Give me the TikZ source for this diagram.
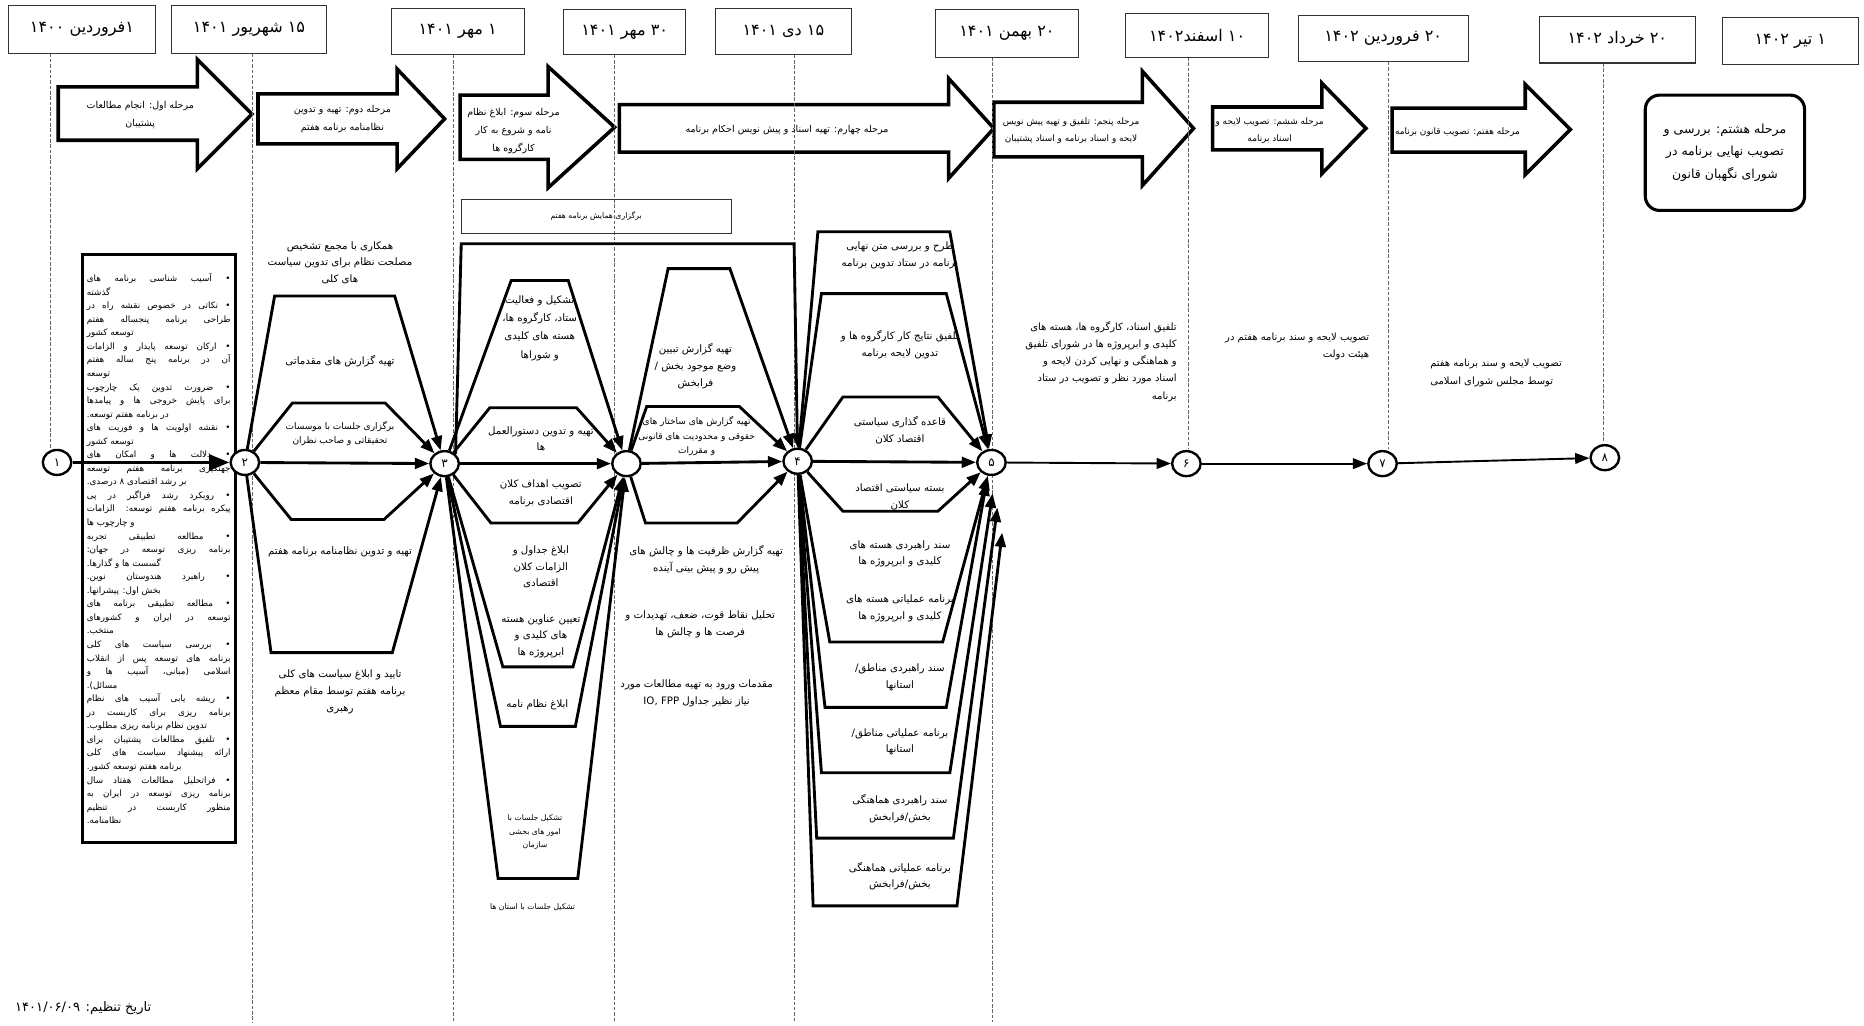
\documentclass[tikz,border=0pt]{standalone}
\usepackage{fontspec}
\usetikzlibrary{arrows.meta,shapes.geometric}
\newfontfamily\fa[Script=Arabic]{DejaVu Sans}
\TeXXeTstate=1
\newcommand\rtl[1]{\beginR #1\endR}
\hyphenpenalty=10000
\exhyphenpenalty=10000
\begin{document}
\begin{tikzpicture}[x=1pt,y=-1pt,
  tl/.style={draw=black!60,line width=0.7pt,dash pattern=on 3pt off 1.5pt},
  datebox/.style={draw=black!80,line width=0.9pt,inner sep=0pt,font=\fa\fontsize{13.5}{15}\selectfont},
  stagearrow/.style={draw=black,line width=3pt,fill=white,line join=miter},
  stagebox/.style={draw=black,line width=2.6pt,rounded corners=12pt,fill=white,align=center,inner sep=0pt,font=\fa\fontsize{10.5}{19}\selectfont},
  circ/.style={ellipse,draw=black,line width=2pt,fill=white,minimum width=24pt,minimum height=21pt,inner sep=0pt,font=\fa\fontsize{10}{11}\selectfont},
  conn/.style={draw=black,line width=2.4pt,line join=miter,-{Triangle[length=12pt,width=9pt]}},
  mainarrow/.style={draw=black,line width=3pt,-{Triangle[length=17pt,width=13pt]}},
  thinarrow/.style={draw=black,line width=1.6pt,-{Triangle[length=12pt,width=9pt]}},
  txt/.style={align=center,inner sep=0pt,font=\fa\fontsize{8.6}{14}\selectfont},
  stxt/.style={align=center,inner sep=0pt,font=\fa\fontsize{6.5}{11.5}\selectfont},
  mtxt/.style={align=center,inner sep=0pt,font=\fa\fontsize{7.6}{12}\selectfont},
  atxt/.style={align=center,inner sep=0pt,font=\fa\fontsize{8}{15}\selectfont},
  satxt/.style={align=center,inner sep=0pt,font=\fa\fontsize{7.5}{14}\selectfont},
  rtxt/.style={inner sep=0pt,anchor=north east,font=\fa\fontsize{8.4}{14.5}\selectfont},
  listbox/.style={draw=black,line width=2.5pt,inner sep=0pt,minimum width=129pt,minimum height=495pt}
]
\useasboundingbox (0,0) rectangle (1568,863);

% ---------- stage arrows ----------
\draw[stagearrow] (49,73) -- (166,73) -- (166,50) -- (212,96) -- (166,142) -- (166,118) -- (49,118) -- cycle;
\draw[stagearrow] (217,79) -- (334,79) -- (334,58) -- (374,100) -- (334,142) -- (334,121) -- (217,121) -- cycle;
\draw[stagearrow] (387,80) -- (461,80) -- (461,56) -- (517,107) -- (461,158) -- (461,134) -- (387,134) -- cycle;
\draw[stagearrow] (521,88) -- (798,88) -- (798,66) -- (836,108) -- (798,150) -- (798,128) -- (521,128) -- cycle;
\draw[stagearrow] (836,86) -- (961,86) -- (961,60) -- (1004,108) -- (961,156) -- (961,132) -- (836,132) -- cycle;
\draw[stagearrow] (1020,90) -- (1112,90) -- (1112,70) -- (1149,108) -- (1112,146) -- (1112,126) -- (1020,126) -- cycle;
\draw[stagearrow] (1171,91) -- (1283,91) -- (1283,71) -- (1321,109) -- (1283,147) -- (1283,128) -- (1171,128) -- cycle;

% ---------- dashed time lines ----------
\draw[tl] (42,45) -- (42,378);
\draw[tl] (212,45) -- (212,860);
\draw[tl] (381,46) -- (381,860);
\draw[tl] (517,46) -- (517,860);
\draw[tl] (668,46) -- (668,860);
\draw[tl] (835,48) -- (835,860);
\draw[tl] (1000,48) -- (1000,378);
\draw[tl] (1168,52) -- (1168,378);
\draw[tl] (1349,53) -- (1349,372);

% ---------- date boxes ----------
\node[datebox,minimum width=124pt,minimum height=40pt] (d1) at (69,25) {\rtl{۱فروردین ۱۴۰۰}};
\node[datebox,minimum width=131pt,minimum height=40pt] (d2) at (209.5,25) {\rtl{۱۵ شهریور ۱۴۰۱}};
\node[datebox,minimum width=112pt,minimum height=39pt] (d3) at (385,26.5) {\rtl{۱ مهر ۱۴۰۱}};
\node[datebox,minimum width=103pt,minimum height=38pt] (d4) at (525.5,27) {\rtl{۳۰ مهر ۱۴۰۱}};
\node[datebox,minimum width=114pt,minimum height=39pt] (d5) at (659,26.5) {\rtl{۱۵ دی ۱۴۰۱}};
\node[datebox,minimum width=120pt,minimum height=40pt] (d6) at (847,28) {\rtl{۲۰ بهمن ۱۴۰۱}};
\node[datebox,minimum width=120pt,minimum height=37pt] (d7) at (1007,29.5) {\rtl{۱۰ اسفند۱۴۰۲}};
\node[datebox,minimum width=143pt,minimum height=39pt] (d8) at (1163.5,32.5) {\rtl{۲۰ فروردین ۱۴۰۲}};
\node[datebox,minimum width=131pt,minimum height=39pt] (d9) at (1360.5,33.5) {\rtl{۲۰ خرداد ۱۴۰۲}};
\node[datebox,minimum width=114pt,minimum height=39pt] (d10) at (1506,34.5) {\rtl{۱ تیر ۱۴۰۲}};

% ---------- stage 8 box ----------
\node[stagebox,minimum width=134pt,minimum height=97pt] (s8) at (1451,128.5)
  {\rtl{مرحله هشتم: بررسی و}\\\rtl{تصویب نهایی برنامه در}\\\rtl{شورای نگهبان قانون}};

% ---------- stage 1 list ----------
\node[listbox] (bl) at (133.5,461.5) {\parbox{121pt}{\fa\fontsize{7.4}{11.4}\selectfont\tolerance=10000
\rtl{• آسیب شناسی برنامه های\linebreak گذشته}\par
\rtl{• نکاتی در خصوص نقشه راه در\linebreak طراحی برنامه پنجساله هفتم\linebreak توسعه کشور}\par
\rtl{• ارکان توسعه پایدار و الزامات\linebreak آن در برنامه پنج ساله هفتم\linebreak توسعه}\par
\rtl{• ضرورت تدوین یک چارچوب\linebreak برای پایش خروجی ها و پیامدها\linebreak در برنامه هفتم توسعه.}\par
\rtl{• نقشه اولویت ها و فوریت های\linebreak توسعه کشور}\par
\rtl{• دلالت ها و امکان های\linebreak جهتگیری برنامه هفتم توسعه\linebreak بر رشد اقتصادی ۸ درصدی.}\par
\rtl{• رویکرد رشد فراگیر در پی\linebreak پیکره برنامه هفتم توسعه: الزامات\linebreak و چارچوب ها}\par
\rtl{• مطالعه تطبیقی تجربه\linebreak برنامه ریزی توسعه در جهان:\linebreak گسست ها و گذارها.}\par
\rtl{• راهبرد هندوستان نوین.\linebreak بخش اول: پیشرانها.}\par
\rtl{• مطالعه تطبیقی برنامه های\linebreak توسعه در ایران و کشورهای\linebreak منتخب.}\par
\rtl{• بررسی سیاست های کلی\linebreak برنامه های توسعه پس از انقلاب\linebreak اسلامی (مبانی، آسیب ها و\linebreak مسائل).}\par
\rtl{• ریشه یابی آسیب های نظام\linebreak برنامه ریزی برای کاربست در\linebreak تدوین نظام برنامه ریزی مطلوب.}\par
\rtl{• تلفیق مطالعات پشتیبان برای\linebreak ارائه پیشنهاد سیاست های کلی\linebreak برنامه هفتم توسعه کشور.}\par
\rtl{• فراتحلیل مطالعات هفتاد سال\linebreak برنامه ریزی توسعه در ایران به\linebreak منظور کاربست در تنظیم\linebreak نظامنامه.}\par
}};

% ---------- همایش box ----------
\node[draw=black!80,line width=0.8pt,minimum width=227pt,minimum height=28pt,stxt] (hm) at (501.5,182) {\rtl{برگزاری همایش برنامه هفتم}};

% ---------- circles ----------
\node[circ] (c1) at (48,389) {\rtl{۱}};
\node[circ] (c2) at (206,389) {\rtl{۲}};
\node[circ] (c3) at (374,390) {\rtl{۳}};
\node[circ] (c3b) at (527,390) {};
\node[circ] (c4) at (671,388) {\rtl{۴}};
\node[circ] (c5) at (834,389) {\rtl{۵}};
\node[circ] (c6) at (998,390) {\rtl{۶}};
\node[circ] (c7) at (1163,390) {\rtl{۷}};
\node[circ] (c8) at (1350,385) {\rtl{۸}};

\coordinate (e5b) at (830,405);
\coordinate (e5c) at (835,415);
\coordinate (e5d) at (839,427);
\coordinate (e5e) at (843,448);

% ---------- timeline ----------
\draw[mainarrow] (c1) -- (c2);
\draw[conn] (c2) -- (c3);
\draw[conn] (c3) -- (c3b);
\draw[conn] (c3b) -- (c4);
\draw[conn] (c4) -- (c5);
\draw[thinarrow] (c5) -- (c6);
\draw[thinarrow] (c6) -- (c7);
\draw[thinarrow] (c7) -- (c8);

% ---------- stage 2 ----------
\draw[conn] (c2) -- (231,249) -- (332,249) -- (c3);
\draw[conn] (c2) -- (246,339) -- (324,339) -- (c3);
\draw[conn] (c2) -- (245,437) -- (323,437) -- (c3);
\draw[conn] (c2) -- (228,549) -- (330,549) -- (c3);

% ---------- stage 3 ----------
\draw[conn] (c3.north east) -- (388,205) -- (668,205) -- (c4);
\draw[conn] (c3) -- (430,236) -- (478,236) -- (c3b);
\draw[conn] (c3) -- (412,343) -- (485,343) -- (c3b);
\draw[conn] (c3) -- (413,440) -- (486,440) -- (c3b);
\draw[conn] (c3) -- (423,561) -- (482,561) -- (c3b);
\draw[conn] (c3) -- (421,611) -- (484,611) -- (c3b);
\draw[conn] (c3) -- (419,739) -- (486,739) -- (c3b);

% ---------- stage 4 ----------
\draw[conn] (c3b) -- (562,226) -- (614,226) -- (c4);
\draw[conn] (c3b) -- (544,342) -- (622,342) -- (c4);
\draw[conn] (c3b) -- (543,440) -- (620,440) -- (c4);

% ---------- stage 5 ----------
\draw[conn] (c4) -- (688,195) -- (799,195) -- (c5);
\draw[conn] (c4) -- (691,247) -- (796,247) -- (c5);
\draw[conn] (c4) -- (709,334) -- (789,334) -- (c5);
\draw[conn] (c4) -- (709,430) -- (789,430) -- (c5);
\draw[conn] (c4) -- (698,540) -- (793,540) -- (c5);
\draw[conn] (c4) -- (694,595) -- (796,595) -- (e5b);
\draw[conn] (c4) -- (691,650) -- (799,650) -- (e5c);
\draw[conn] (c4) -- (687,705) -- (802,705) -- (e5d);
\draw[conn] (c4) -- (684,762) -- (805,762) -- (e5e);

% ---------- arrow texts ----------
\node[atxt] (a1t) at (118,97) {\rtl{مرحله اول: انجام مطالعات}\\\rtl{پشتیبان}};
\node[atxt] (a2t) at (288,100) {\rtl{مرحله دوم: تهیه و تدوین}\\\rtl{نظامنامه برنامه هفتم}};
\node[atxt] (a3t) at (432,110) {\rtl{مرحله سوم: ابلاغ نظام}\\\rtl{نامه و شروع به کار}\\\rtl{کارگروه ها}};
\node[atxt] (a4t) at (662,109) {\rtl{مرحله چهارم: تهیه اسناد و پیش نویس احکام برنامه}};
\node[satxt] (a5t) at (901,110) {\rtl{مرحله پنجم: تلفیق و تهیه پیش نویس}\\\rtl{لایحه و اسناد برنامه و اسناد پشتیبان}};
\node[satxt] (a6t) at (1068,110) {\rtl{مرحله ششم: تصویب لایحه و}\\\rtl{اسناد برنامه}};
\node[satxt] (a7t) at (1226,111) {\rtl{مرحله هفتم: تصویب قانون برنامه}};

% ---------- stage 2 texts ----------
\node[txt] (t2a) at (286,221) {\rtl{همکاری با مجمع تشخیص}\\\rtl{مصلحت نظام برای تدوین سیاست}\\\rtl{های کلی}};
\node[txt] (t2b) at (286,304) {\rtl{تهیه گزارش های مقدماتی}};
\node[mtxt] (t2c) at (286,365) {\rtl{برگزاری جلسات با موسسات}\\\rtl{تحقیقاتی و صاحب نظران}};
\node[txt] (t2d) at (286,464) {\rtl{تهیه و تدوین نظامنامه برنامه هفتم}};
\node[txt] (t2e) at (286,582) {\rtl{تایید و ابلاغ سیاست های کلی}\\\rtl{برنامه هفتم توسط مقام معظم}\\\rtl{رهبری}};

% ---------- stage 3 texts ----------
\node[txt,font=\fa\fontsize{8.6}{15.5}\selectfont] (t3a) at (454,276) {\rtl{تشکیل و فعالیت}\\\rtl{ستاد، کارگروه ها،}\\\rtl{هسته های کلیدی}\\\rtl{و شوراها}};
\node[txt] (t3b) at (455,369) {\rtl{تهیه و تدوین دستورالعمل}\\\rtl{ها}};
\node[txt] (t3c) at (455,415) {\rtl{تصویب اهداف کلان}\\\rtl{اقتصادی برنامه}};
\node[txt] (t3d) at (455,477) {\rtl{ابلاغ جداول و}\\\rtl{الزامات کلان}\\\rtl{اقتصادی}};
\node[txt] (t3e) at (455,535) {\rtl{تعیین عناوین هسته}\\\rtl{های کلیدی و}\\\rtl{ابرپروژه ها}};
\node[txt] (t3f) at (452,593) {\rtl{ابلاغ نظام نامه}};
\node[stxt] (t3g) at (450,700) {\rtl{تشکیل جلسات با}\\\rtl{امور های بخشی}\\\rtl{سازمان}};
\node[stxt] (t3h) at (448,763) {\rtl{تشکیل جلسات با استان ها}};

% ---------- stage 4 texts ----------
\node[txt] (t4a) at (585,308) {\rtl{تهیه گزارش تبیین}\\\rtl{وضع موجود بخش /}\\\rtl{فرابخش}};
\node[mtxt] (t4b) at (586,367) {\rtl{تهیه گزارش های ساختار های}\\\rtl{حقوقی و محدودیت های قانونی}\\\rtl{و مقررات}};
\node[txt] (t4c) at (594,471) {\rtl{تهیه گزارش ظرفیت ها و چالش های}\\\rtl{پیش رو و پیش بینی آینده}};
\node[txt] (t4d) at (589,525) {\rtl{تحلیل نقاط قوت، ضعف، تهدیدات و}\\\rtl{فرصت ها و چالش ها}};
\node[txt] (t4e) at (586,583) {\rtl{مقدمات ورود به تهیه مطالعات مورد}\\\rtl{نیاز نظیر جداول \beginL IO, FPP\endL}};

% ---------- stage 5 texts ----------
\node[txt] (t5a) at (757,215) {\rtl{طرح و بررسی متن نهایی}\\\rtl{برنامه در ستاد تدوین برنامه}};
\node[txt] (t5b) at (757,290) {\rtl{تلفیق نتایج کار کارگروه ها و}\\\rtl{تدوین لایحه برنامه}};
\node[txt] (t5c) at (757,362) {\rtl{قاعده گذاری سیاستی}\\\rtl{اقتصاد کلان}};
\node[txt] (t5d) at (757,418) {\rtl{بسته سیاستی اقتصاد}\\\rtl{کلان}};
\node[txt] (t5e) at (757,466) {\rtl{سند راهبردی هسته های}\\\rtl{کلیدی و ابرپروژه ها}};
\node[txt] (t5f) at (757,512) {\rtl{برنامه عملیاتی هسته های}\\\rtl{کلیدی و ابرپروژه ها}};
\node[txt] (t5g) at (757,570) {\rtl{سند راهبردی مناطق/}\\\rtl{استانها}};
\node[txt] (t5h) at (757,624) {\rtl{برنامه عملیاتی مناطق/}\\\rtl{استانها}};
\node[txt] (t5i) at (757,680) {\rtl{سند راهبردی هماهنگی}\\\rtl{بخش/فرابخش}};
\node[txt] (t5j) at (757,737) {\rtl{برنامه عملیاتی هماهنگی}\\\rtl{بخش/فرابخش}};

% ---------- right texts ----------
\node[rtxt,align=right] (t6) at (990,270)
  {\rtl{تلفیق اسناد، کارگروه ها، هسته های}\\\rtl{کلیدی و ابرپروژه ها در شورای تلفیق}\\\rtl{و هماهنگی و نهایی کردن لایحه و}\\\rtl{اسناد مورد نظر و تصویب در ستاد}\\\rtl{برنامه}};
\node[rtxt,align=right] (t7) at (1152,280)
  {\rtl{تصویب لایحه و سند برنامه هفتم در}\\\rtl{هیئت دولت}};
\node[rtxt,align=left] (t8) at (1314,302)
  {\rtl{تصویب لایحه و سند برنامه هفتم}\\\rtl{توسط مجلس شورای اسلامی}};

% ---------- date of preparation ----------
\node[inner sep=0pt,font=\fa\fontsize{11}{13}\selectfont] (dt) at (70,848) {\rtl{تاریخ تنظیم: \beginL ۱۴۰۱/۰۶/۰۹\endL}};
\end{tikzpicture}
\end{document}
